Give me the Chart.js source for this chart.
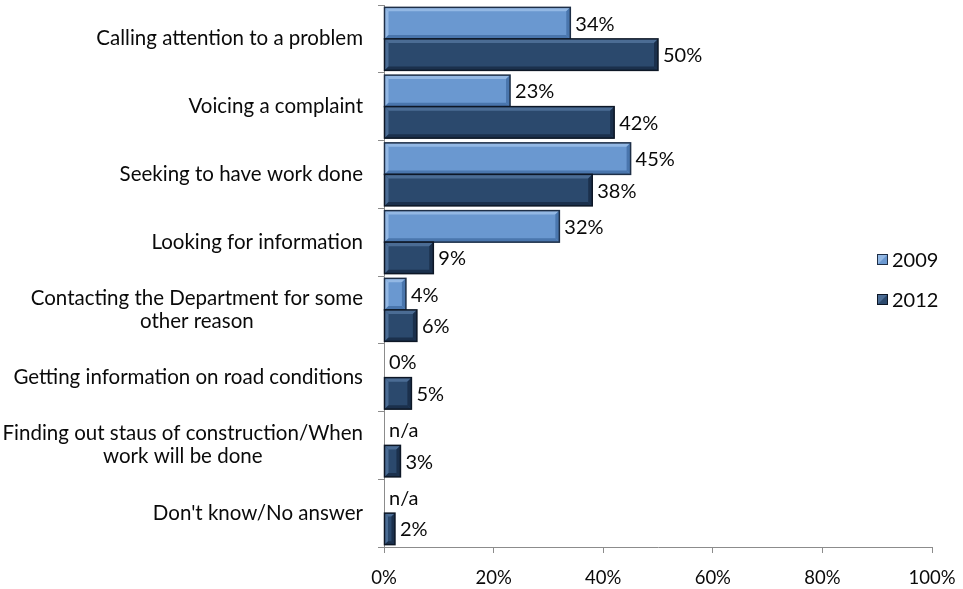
<!DOCTYPE html>
<html>
<head>
<meta charset="utf-8">
<script src="https://cdn.jsdelivr.net/npm/chart.js@4.4.0/dist/chart.umd.min.js"></script>
<style>
  html, body { margin: 0; padding: 0; background: #fff; }
  #wrap { width: 963px; height: 589px; position: relative; }
</style>
</head>
<body>
<div id="wrap"><canvas id="contactChart"></canvas></div>
<script>
// reasons for contacting the Department, 2009 vs 2012
const categories = [
  "Calling attention to a problem",
  "Voicing a complaint",
  "Seeking to have work done",
  "Looking for information",
  ["Contacting the Department for some", "other reason"],
  "Getting information on road conditions",
  ["Finding out staus of construction/When", "work will be done"],
  "Don't know/No answer"
];
const values2009 = [34, 23, 45, 32, 4, 0, null, null];
const values2012 = [50, 42, 38, 9, 6, 5, 3, 2];
const xTicks = [0, 20, 40, 60, 80, 100];

const FONT = "Lato, 'Open Sans', sans-serif";

const palette = {
  "2009": { fill: "#6a98d0", light: "#93b8e4", dark: "#4a76ad", edge: "#1e2f47" },
  "2012": { fill: "#2b496d", light: "#4b6c94", dark: "#1b304c", edge: "#0d1726" }
};

// category names: block right-aligned against the axis, lines centred in the block
const categoryLabels = {
  id: "categoryLabels",
  afterDraw(chart) {
    const ctx = chart.ctx;
    const ys = chart.scales.y;
    const rightEdge = ys.right - 21;
    const lineH = 23;
    ctx.save();
    ctx.font = "20.5px " + FONT;
    ctx.fillStyle = "#0a0a0a";
    ctx.textAlign = "center";
    ctx.textBaseline = "middle";
    chart.data.labels.forEach((lab, i) => {
      const lines = Array.isArray(lab) ? lab : [lab];
      const widest = Math.max(...lines.map(l => ctx.measureText(l).width));
      const cx = rightEdge - widest / 2;
      const cy = ys.getPixelForTick(i);
      lines.forEach((l, k) => {
        ctx.fillText(l, cx, cy + (k - (lines.length - 1) / 2) * lineH);
      });
    });
    ctx.restore();
  }
};

// beveled look on each bar + value labels
const bevelAndLabels = {
  id: "bevelAndLabels",
  afterDatasetsDraw(chart) {
    const ctx = chart.ctx;
    chart.data.datasets.forEach((ds, di) => {
      const meta = chart.getDatasetMeta(di);
      const col = palette[ds.label];
      meta.data.forEach((bar, i) => {
        const p = bar.getProps(["x", "y", "base", "height"], true);
        const left = Math.min(p.x, p.base), right = Math.max(p.x, p.base);
        const top = p.y - p.height / 2, bottom = p.y + p.height / 2;
        const w = right - left;
        const v = ds.data[i];
        if (v !== null && v > 0 && w > 1) {
          const b = Math.min(4, w / 3, p.height / 3);
          ctx.save();
          // top & left highlight
          ctx.fillStyle = col.light;
          ctx.beginPath();
          ctx.moveTo(left, top); ctx.lineTo(right, top);
          ctx.lineTo(right - b, top + b); ctx.lineTo(left + b, top + b);
          ctx.closePath(); ctx.fill();
          ctx.beginPath();
          ctx.moveTo(left, top); ctx.lineTo(left + b, top + b);
          ctx.lineTo(left + b, bottom - b); ctx.lineTo(left, bottom);
          ctx.closePath(); ctx.fill();
          // bottom & right shade
          ctx.fillStyle = col.dark;
          ctx.beginPath();
          ctx.moveTo(left, bottom); ctx.lineTo(right, bottom);
          ctx.lineTo(right - b, bottom - b); ctx.lineTo(left + b, bottom - b);
          ctx.closePath(); ctx.fill();
          ctx.beginPath();
          ctx.moveTo(right, top); ctx.lineTo(right, bottom);
          ctx.lineTo(right - b, bottom - b); ctx.lineTo(right - b, top + b);
          ctx.closePath(); ctx.fill();
          ctx.strokeStyle = col.edge;
          ctx.lineWidth = 1.5;
          ctx.strokeRect(left, top, w, p.height);
          ctx.restore();
        }
        // value label
        const txt = v === null ? "n/a" : v + "%";
        const xs = chart.scales.x;
        const lx = (v === null ? xs.getPixelForValue(0) : right) + 5;
        ctx.save();
        ctx.fillStyle = "#0a0a0a";
        ctx.font = "20px " + FONT;
        ctx.textAlign = "left";
        ctx.textBaseline = "middle";
        ctx.fillText(txt, lx, p.y + 1);
        ctx.restore();
      });
    });
  }
};

// legend sits inside the right side of the plot
const sideLegend = {
  id: "sideLegend",
  afterDraw(chart) {
    const ctx = chart.ctx;
    const items = chart.data.datasets.map(d => d.label);
    items.forEach((lab, k) => {
      const col = palette[lab];
      const x = 877, y = 254 + k * 40, s = 11;
      ctx.save();
      ctx.fillStyle = col.fill;
      ctx.fillRect(x, y, s, s);
      ctx.fillStyle = col.light;
      ctx.beginPath();
      ctx.moveTo(x, y); ctx.lineTo(x + s, y); ctx.lineTo(x + s / 2, y + s / 2); ctx.lineTo(x, y + s);
      ctx.closePath(); ctx.fill();
      ctx.strokeStyle = col.edge;
      ctx.lineWidth = 1;
      ctx.strokeRect(x + 0.5, y + 0.5, s - 1, s - 1);
      ctx.fillStyle = "#0a0a0a";
      ctx.font = "20px " + FONT;
      ctx.textBaseline = "middle";
      ctx.fillText(lab, x + s + 4, y + s / 2 + 1);
      ctx.restore();
    });
  }
};

new Chart(document.getElementById("contactChart"), {
  type: "bar",
  data: {
    labels: categories,
    datasets: [
      { label: "2009", data: values2009, backgroundColor: palette["2009"].fill },
      { label: "2012", data: values2012, backgroundColor: palette["2012"].fill }
    ]
  },
  options: {
    indexAxis: "y",
    responsive: true,
    maintainAspectRatio: false,
    animation: false,
    layout: { padding: { top: 5, right: 0, bottom: 0, left: 0 } },
    datasets: { bar: { categoryPercentage: 0.93, barPercentage: 1 } },
    scales: {
      x: {
        min: 0, max: 100,
        afterBuildTicks: s => { s.ticks = xTicks.map(v => ({ value: v })); },
        afterFit: s => { s.height = 42; s.paddingRight = 31; s.paddingLeft = 0; },
        ticks: {
          callback: v => v + "%",
          color: "#0a0a0a",
          font: { family: FONT, size: 18.5 },
          padding: 14
        },
        grid: { drawOnChartArea: false, tickLength: 6, color: "#8c8c8c" },
        border: { color: "#8c8c8c" }
      },
      y: {
        afterFit: s => { s.width = 384; s.paddingTop = 0; s.paddingBottom = 0; },
        ticks: { display: false },
        grid: { drawOnChartArea: false, tickLength: 6, color: "#8c8c8c" },
        border: { color: "#8c8c8c" }
      }
    },
    plugins: {
      legend: { display: false },
      tooltip: { enabled: false }
    }
  },
  plugins: [bevelAndLabels, categoryLabels, sideLegend]
});
</script>
</body>
</html>
